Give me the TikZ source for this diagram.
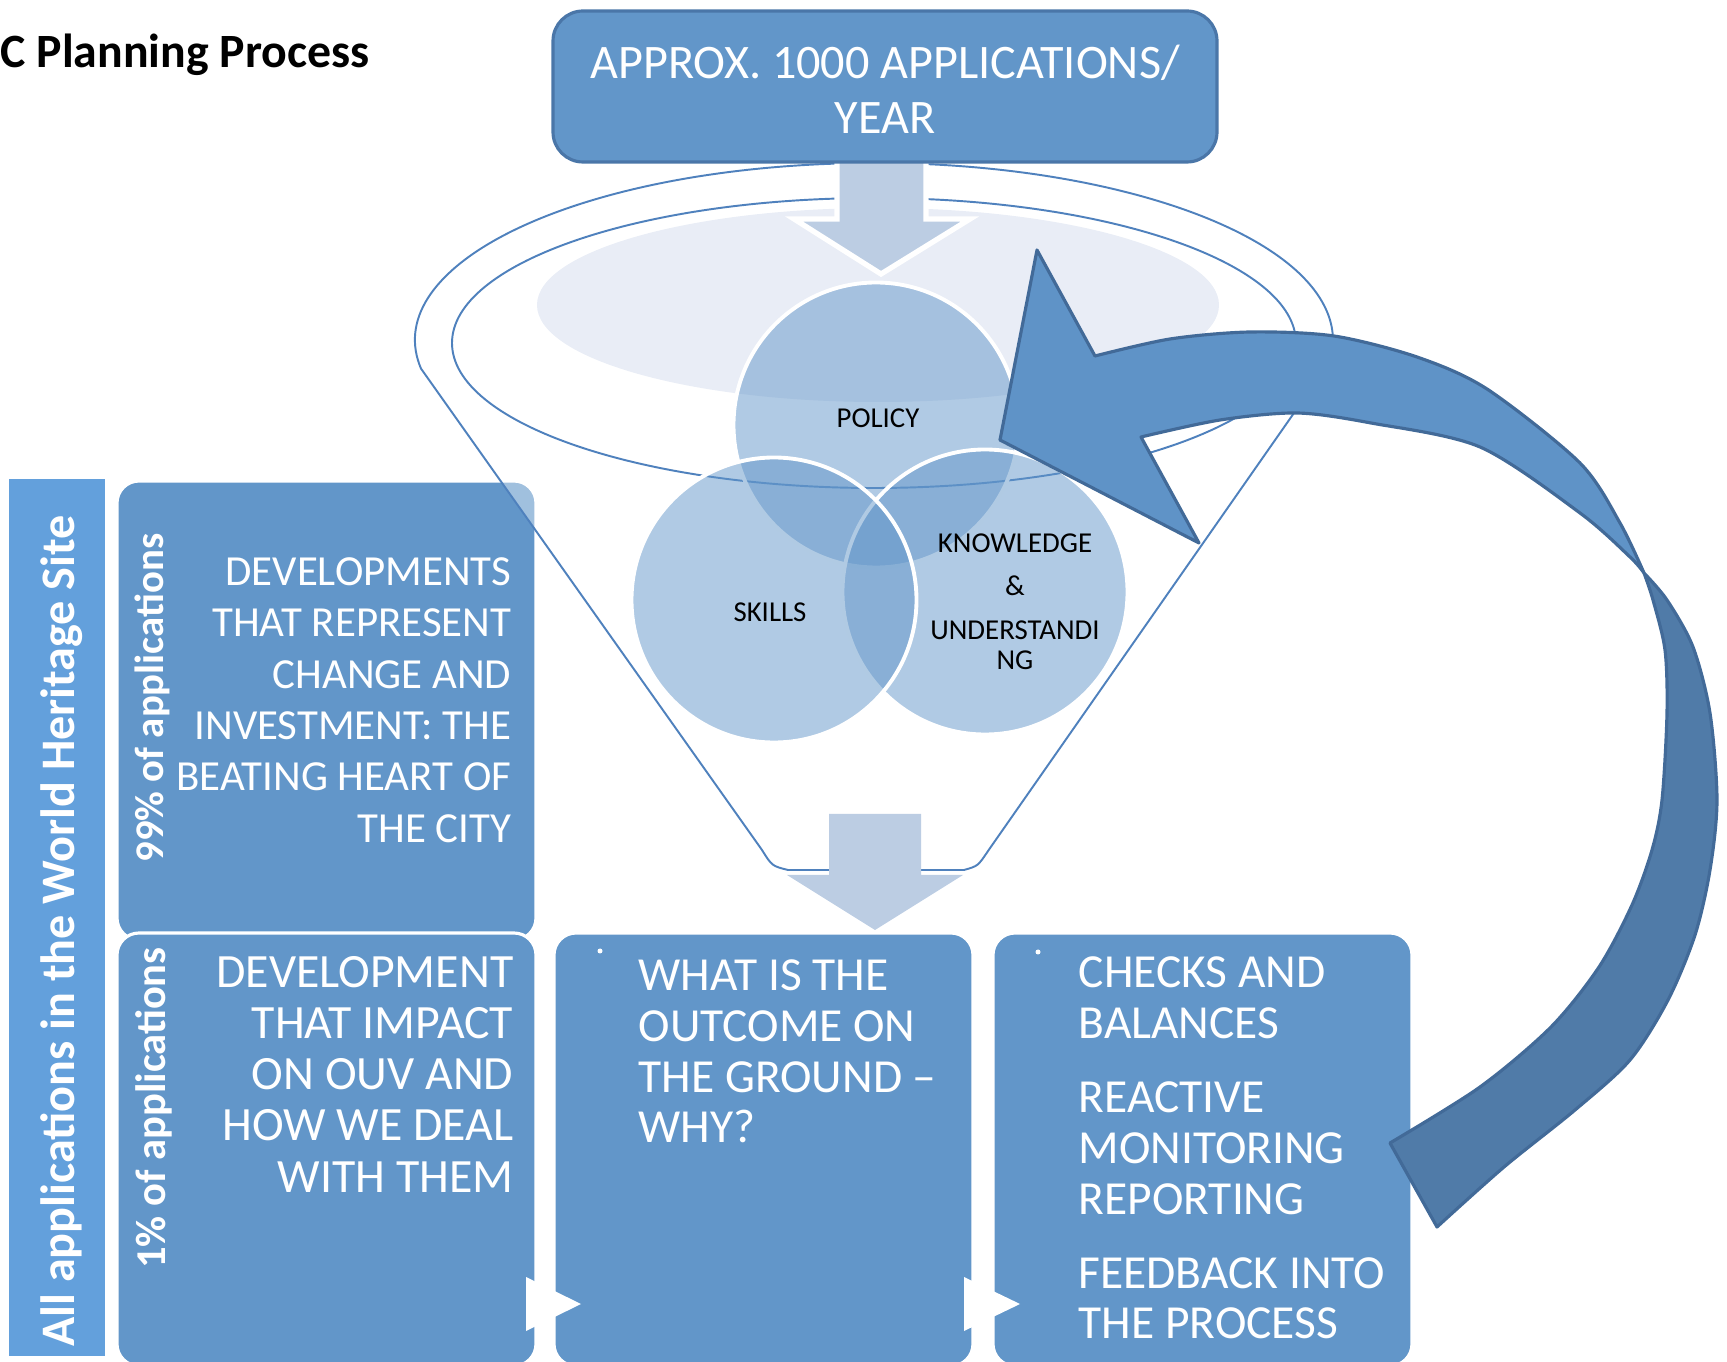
\documentclass[tikz,border=0pt]{standalone}
\usepackage{fontspec}
\setmainfont{Carlito}
\usetikzlibrary{shapes.geometric, arrows, positioning}

\definecolor{boxblue}{RGB}{98,150,201}
\definecolor{barblue}{RGB}{99,160,220}
\definecolor{edgeblue}{RGB}{74,118,168}
\definecolor{lineblue}{RGB}{79,129,189}
\definecolor{paleblue}{RGB}{188,205,227}
\definecolor{mistblue}{RGB}{233,237,246}
\definecolor{looplight}{RGB}{95,147,199}
\definecolor{loopdark}{RGB}{80,123,168}
\definecolor{loopedge}{RGB}{66,106,152}

\tikzset{
	appbox/.style     = {draw=edgeblue, line width=0.9pt, fill=boxblue, rounded corners=3mm, minimum width=66.4mm, minimum height=15.1mm, inner sep=0pt, outer sep=0pt},
	sidebar/.style    = {fill=barblue, minimum width=9.6mm, minimum height=87.7mm, inner sep=0pt},
	panel/.style      = {draw=white, line width=0.9pt, fill=boxblue, rounded corners=2.2mm, minimum width=41.9mm, minimum height=43.3mm, inner sep=0pt, outer sep=0pt},
	venn/.style       = {circle, draw=white, line width=1.1pt, fill=boxblue, fill opacity=0.5, draw opacity=1, minimum size=28.5mm, inner sep=0pt},
	venntext/.style   = {font=\fontsize{8.2}{8.3}\selectfont, text=black, align=center, inner sep=0pt},
	bigtext/.style    = {font=\fontsize{13.5}{14.5}\selectfont, text=white, align=left, inner sep=0pt},
	sidetext/.style   = {font=\fontsize{12.2}{14.6}\selectfont, text=white, align=right, inner sep=0pt},
	vlabel/.style     = {font=\bfseries\fontsize{11.6}{13}\selectfont, text=white, rotate=90, anchor=base},
	funnel/.style     = {draw=lineblue, line width=0.55pt, fill=white, fill opacity=0.4},
	blockarrow/.style = {fill=paleblue},
	loopfront/.style  = {fill=looplight, draw=loopedge, line width=0.9pt, line join=round},
	loopback/.style   = {fill=loopdark, draw=loopedge, line width=0.9pt, line join=round}
}

\begin{document}
\begin{tikzpicture}[x=0.1mm, y=-0.1mm]
	\useasboundingbox (0,0) rectangle (1727,1362);

	\node (bar)     [sidebar] at (57,917.5) {};
	\node (bartext) [vlabel, font=\bfseries\fontsize{13.7}{15}\selectfont] at (75,931) {All applications in the World Heritage Site};
	\node (upbox)   [panel, minimum height=45.9mm] at (326.5,710.5) {};

	\path [funnel] (421,368.6) arc[start angle=170.7, end angle=382.8, x radius=459, y radius=177]
		-- (988,851) .. controls (978,866) .. (964,870) -- (788,870) .. controls (772,866) .. (762,850) -- cycle;
	\draw [lineblue, line width=0.55pt] (874,343) ellipse[x radius=422, y radius=145];
	\fill [mistblue] (878,305) ellipse[x radius=341, y radius=97];
	\path [blockarrow, draw=white, line width=1.5pt] (837,160) -- (926,160) -- (926,219) -- (970,219) -- (881,274) -- (794,219) -- (837,219) -- cycle;

	\node (policy)    [venn] at (876,425) {};
	\node (knowledge) [venn] at (985,592) {};
	\node (skills)    [venn] at (774,600) {};
	\node (policytext) [venntext, anchor=base]  at (878,428) {POLICY};
	\node (skillstext) [venntext, anchor=base]  at (770,622) {SKILLS};
	\node (knowtext)   [venntext, anchor=south] at (1015,670) {KNOWLEDGE\\[4.2pt]\&\\[4.2pt]UNDERSTANDI\\NG};

	\node (lowbox)    [panel] at (326.5,1149.5) {};
	\node (midbox)    [panel, right=1.8mm of lowbox] {};
	\node (reviewbox) [panel, right=2mm of midbox] {};
	\fill [white] (526,1277) -- (581,1304) -- (526,1331) -- cycle;
	\fill [white] (964,1277) -- (1020,1304) -- (964,1331) -- cycle;
	\fill [white] (600,951) circle[radius=2.5];
	\fill [white] (1038,952) circle[radius=2.5];

	\path [blockarrow] (829,814) -- (921,814) -- (921,875) -- (963,875) -- (875,930) -- (787,875) -- (829,875) -- cycle;

	\node (uptext)    [sidetext, anchor=south east] at (512,843) {DEVELOPMENTS\\THAT REPRESENT\\CHANGE AND\\INVESTMENT: THE\\BEATING HEART OF\\THE CITY};
	\node (uplabel)   [vlabel] at (163,698) {99\% of applications};
	\node (lowtext)   [sidetext, font=\fontsize{13.6}{14.6}\selectfont, anchor=south east] at (514,1193) {DEVELOPMENT\\THAT IMPACT\\ON OUV AND\\HOW WE DEAL\\WITH THEM};
	\node (lowlabel)  [vlabel, font=\bfseries\fontsize{12.1}{13}\selectfont] at (165,1108) {1\% of applications};
	\node (midtext)   [bigtext, anchor=south west] at (638,1144) {WHAT IS THE\\OUTCOME ON\\THE GROUND –\\WHY?};
	\node (reviewtext)[bigtext, anchor=south west] at (1078,1340) {CHECKS AND\\BALANCES\\[6.5pt]REACTIVE\\MONITORING\\REPORTING\\[6.5pt]FEEDBACK INTO\\THE PROCESS};

	\path [loopback] plot[smooth] coordinates {(1644,573) (1667,600) (1693,647) (1710,713) (1717,800) (1710,870) (1695,935) (1668,1000) (1630,1060) (1575,1110) (1504,1167) (1437,1227)}
		-- plot[smooth] coordinates {(1390,1143) (1480,1087) (1551,1027) (1599,967) (1632,905) (1652,850) (1662,800) (1667,713) (1665,650) (1653,600) (1644,573)} -- cycle;
	\path [loopfront] (1000,440) -- (1037,250)
		-- plot[smooth] coordinates {(1095,356) (1170,339) (1250,332) (1334,336) (1417,357) (1487,389) (1580,463) (1620,523) (1644,573)}
		-- plot[smooth] coordinates {(1644,573) (1630,557) (1580,513) (1480,447) (1371,423) (1297,413) (1220,420) (1141,437)}
		-- (1199,543) -- cycle;

	\node (appbox)  [appbox] at (885,86.5) {};
	\node (apptext) [font=\fontsize{13.7}{15.5}\selectfont, text=white, align=center, inner sep=0pt, anchor=south] at (885,134) {APPROX. 1000 APPLICATIONS/\\YEAR};
	\node (title)   [font=\bfseries\fontsize{13.6}{16}\selectfont, anchor=base west, inner sep=0pt] at (0,68) {C Planning Process};
\end{tikzpicture}
\end{document}
